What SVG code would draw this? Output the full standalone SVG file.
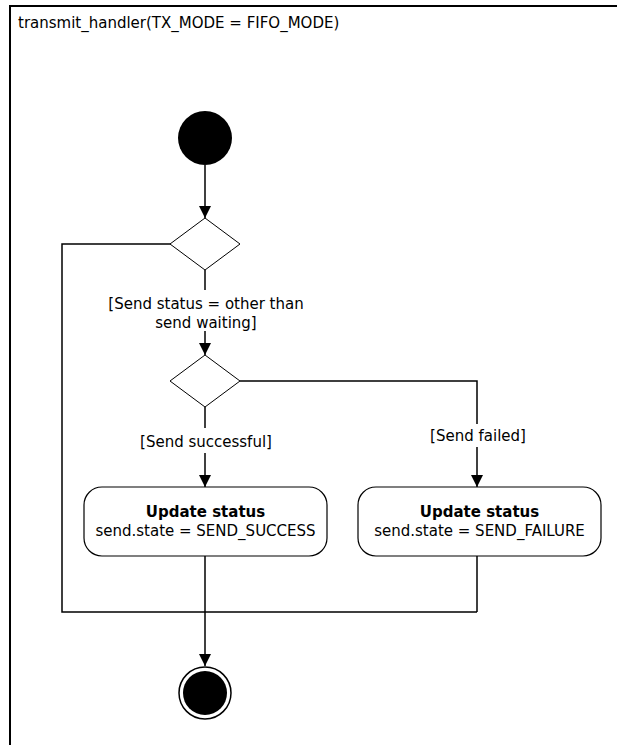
<svg xmlns="http://www.w3.org/2000/svg" width="617" height="745" viewBox="0 0 617 745">
<style>
text{font-family:"DejaVu Sans",Verdana,sans-serif;font-size:15px;fill:#000}
.c{text-anchor:middle}
.b{font-weight:bold}
.ln{fill:none;stroke:#000;stroke-width:1.5}
</style>
<defs>
<marker id="ah" markerWidth="12" markerHeight="12" refX="12" refY="6" orient="auto" markerUnits="userSpaceOnUse">
<path d="M0,0 L12,6 L0,12 Z" fill="#000"/>
</marker>
</defs>
<rect width="617" height="745" fill="#fff"/>
<g id="frame">
<path d="M10,745 L10,6 L617,6" fill="none" stroke="#000" stroke-width="2"/>
<text x="18" y="28">transmit_handler(TX_MODE = FIFO_MODE)</text>
</g>
<g id="connectors">
<line class="ln" x1="205" y1="165" x2="205" y2="218" marker-end="url(#ah)"/>
<polyline class="ln" points="171,244 62,244 62,612 477,612"/>
<line class="ln" x1="205" y1="270" x2="205" y2="290"/>
<line class="ln" x1="205" y1="331" x2="205" y2="355" marker-end="url(#ah)"/>
<line class="ln" x1="205" y1="407" x2="205" y2="428"/>
<line class="ln" x1="205" y1="453" x2="205" y2="487" marker-end="url(#ah)"/>
<polyline class="ln" points="240,381 477,381 477,424"/>
<line class="ln" x1="477" y1="447" x2="477" y2="487" marker-end="url(#ah)"/>
<line class="ln" x1="205" y1="556" x2="205" y2="666" marker-end="url(#ah)"/>
<line class="ln" x1="477" y1="556" x2="477" y2="612"/>
<text class="c" x="206" y="309">[Send status = other than</text>
<text class="c" x="206" y="328">send waiting]</text>
<text class="c" x="206" y="447">[Send successful]</text>
<text class="c" x="478" y="441">[Send failed]</text>
</g>
<g id="start">
<circle cx="205" cy="138" r="27" fill="#000"/>
</g>
<g id="decision1">
<polygon points="205,218 240,244 205,270 170,244" fill="#fff" stroke="#000" stroke-width="1"/>
</g>
<g id="decision2">
<polygon points="205,355 240,381 205,407 170,381" fill="#fff" stroke="#000" stroke-width="1"/>
</g>
<g id="update_success">
<rect x="84" y="487" width="243" height="69" rx="18" fill="#fff" stroke="#000" stroke-width="1.2"/>
<text class="c b" x="205.5" y="517">Update status</text>
<text class="c" x="205.5" y="536">send.state = SEND_SUCCESS</text>
</g>
<g id="update_failure">
<rect x="358" y="487" width="243" height="69" rx="18" fill="#fff" stroke="#000" stroke-width="1.2"/>
<text class="c b" x="479.5" y="517">Update status</text>
<text class="c" x="479.5" y="536">send.state = SEND_FAILURE</text>
</g>
<g id="end">
<circle cx="205" cy="693" r="26" fill="#fff" stroke="#000" stroke-width="1.5"/>
<circle cx="205" cy="693" r="22" fill="#000"/>
</g>
</svg>
